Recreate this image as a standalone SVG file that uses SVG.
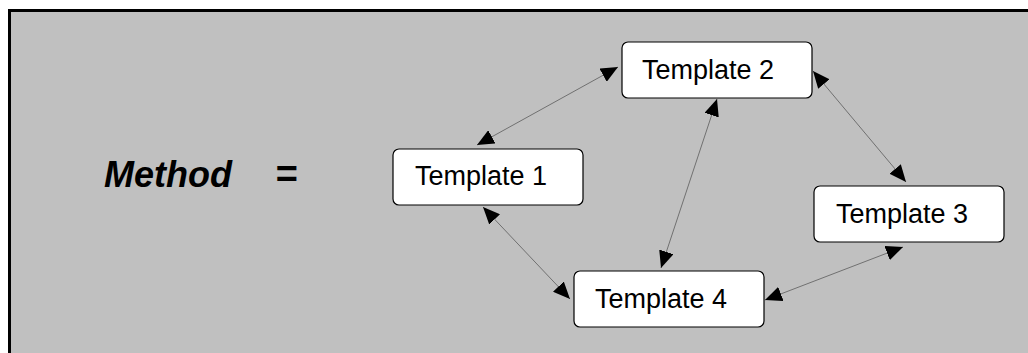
<svg xmlns="http://www.w3.org/2000/svg" width="1028" height="353" viewBox="0 0 1028 353">
<style>
.box{fill:#ffffff;stroke:#000000;stroke-width:1.2}
.lbl{font-family:"Liberation Sans",Arial,sans-serif;font-size:27px;fill:#000000}
.title{font-family:"Liberation Sans",Arial,sans-serif;font-size:36px;font-weight:bold;font-style:italic;fill:#000000}
.conn{stroke:#707070;stroke-width:1;fill:none;marker-start:url(#ah);marker-end:url(#ah)}
</style>
<defs>
<marker id="ah" viewBox="0 0 17 15" refX="17" refY="7.5" markerWidth="17" markerHeight="15" markerUnits="userSpaceOnUse" orient="auto-start-reverse">
<path d="M0,0 L17,7.5 L0,15 Z" fill="#000000"/>
</marker>
</defs>
<rect x="0" y="0" width="1028" height="353" fill="#ffffff"/>
<rect x="9.5" y="10.5" width="1030" height="350" fill="#c0c0c0" stroke="#000000" stroke-width="3"/>
<g id="title">
<text class="title" x="104" y="187">Method</text>
<text class="title" x="275" y="187" style="font-size:38px">=</text>
</g>
<g id="connectors">
<line class="conn" x1="477" y1="145" x2="618" y2="67"/>
<line class="conn" x1="661" y1="268" x2="717" y2="99"/>
<line class="conn" x1="483" y1="207" x2="570" y2="299"/>
<line class="conn" x1="765" y1="300" x2="903" y2="247"/>
<line class="conn" x1="813" y1="71" x2="906" y2="182"/>
</g>
<g id="template1">
<rect class="box" x="393" y="149" width="190" height="56" rx="6"/>
<text class="lbl" x="415" y="185">Template 1</text>
</g>
<g id="template2">
<rect class="box" x="622" y="42" width="190" height="56" rx="6"/>
<text class="lbl" x="642" y="79">Template 2</text>
</g>
<g id="template3">
<rect class="box" x="814" y="186" width="190" height="56" rx="6"/>
<text class="lbl" x="836" y="223">Template 3</text>
</g>
<g id="template4">
<rect class="box" x="574" y="271" width="190" height="56" rx="6"/>
<text class="lbl" x="595" y="308">Template 4</text>
</g>
</svg>
